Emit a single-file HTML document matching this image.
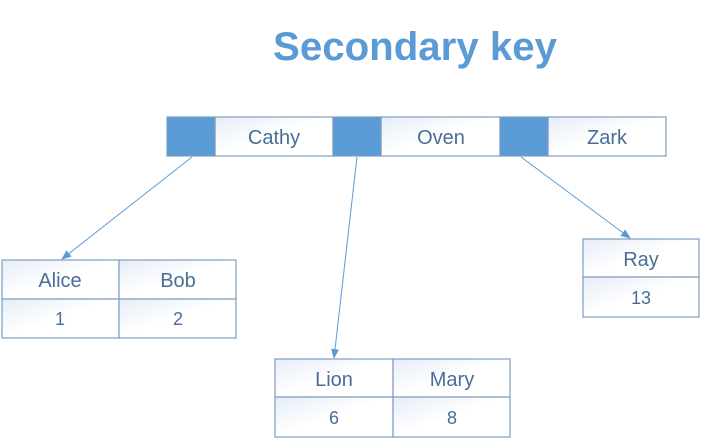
<!DOCTYPE html>
<html><head><meta charset="utf-8"><style>
html,body{margin:0;padding:0;background:#fff;width:702px;height:440px;overflow:hidden}
</style></head><body>
<svg width="702" height="440" xmlns="http://www.w3.org/2000/svg" font-family="Liberation Sans, sans-serif">
<defs>
<marker id="a" markerWidth="10" markerHeight="10" refX="9" refY="5" orient="auto" markerUnits="userSpaceOnUse">
<path d="M0,1 L10,5 L0,9 z" fill="#5b9bd5"/></marker>
<linearGradient id="g" x1="0" y1="0" x2="1" y2="1"><stop offset="0" stop-color="#e6edf8"/><stop offset="0.5" stop-color="#fff"/><stop offset="1" stop-color="#fff"/></linearGradient>
</defs>
<text x="415" y="60" text-anchor="middle" font-size="40" font-weight="bold" fill="#5b9bd5" textLength="284" lengthAdjust="spacingAndGlyphs">Secondary key</text>
<g stroke="#7f9cc0" stroke-width="1.2" fill="url(#g)">
<rect x="215" y="117" width="118" height="39"/>
<rect x="381" y="117" width="119" height="39"/>
<rect x="548" y="117" width="118" height="39"/>
<rect x="167" y="117" width="48" height="39" fill="#5b9bd5"/>
<rect x="333" y="117" width="48" height="39" fill="#5b9bd5"/>
<rect x="500" y="117" width="48" height="39" fill="#5b9bd5"/>
<rect x="2" y="260" width="117" height="39"/><rect x="119" y="260" width="117" height="39"/>
<rect x="2" y="299" width="117" height="39"/><rect x="119" y="299" width="117" height="39"/>
<rect x="275" y="359" width="118" height="38"/><rect x="393" y="359" width="117" height="38"/>
<rect x="275" y="397" width="118" height="40"/><rect x="393" y="397" width="117" height="40"/>
<rect x="583" y="239" width="116" height="38"/><rect x="583" y="277" width="116" height="40"/>
</g>
<g stroke="#5b9bd5" stroke-width="1" marker-end="url(#a)">
<line x1="192" y1="157" x2="62" y2="259"/>
<line x1="357" y1="157" x2="334" y2="358"/>
<line x1="521" y1="157" x2="630" y2="238"/>
</g>
<g fill="#4a6d97" font-size="20" text-anchor="middle">
<text x="274" y="144">Cathy</text>
<text x="441" y="144">Oven</text>
<text x="607" y="144">Zark</text>
<text x="60" y="287">Alice</text>
<text x="178" y="287">Bob</text>
<text x="334" y="386">Lion</text>
<text x="452" y="386">Mary</text>
<text x="641" y="266">Ray</text>
</g>
<g fill="#4a6d97" font-size="18" text-anchor="middle">
<text x="60" y="325">1</text>
<text x="178" y="325">2</text>
<text x="334" y="424">6</text>
<text x="452" y="424">8</text>
<text x="641" y="304">13</text>
</g>
</svg>
</body></html>
